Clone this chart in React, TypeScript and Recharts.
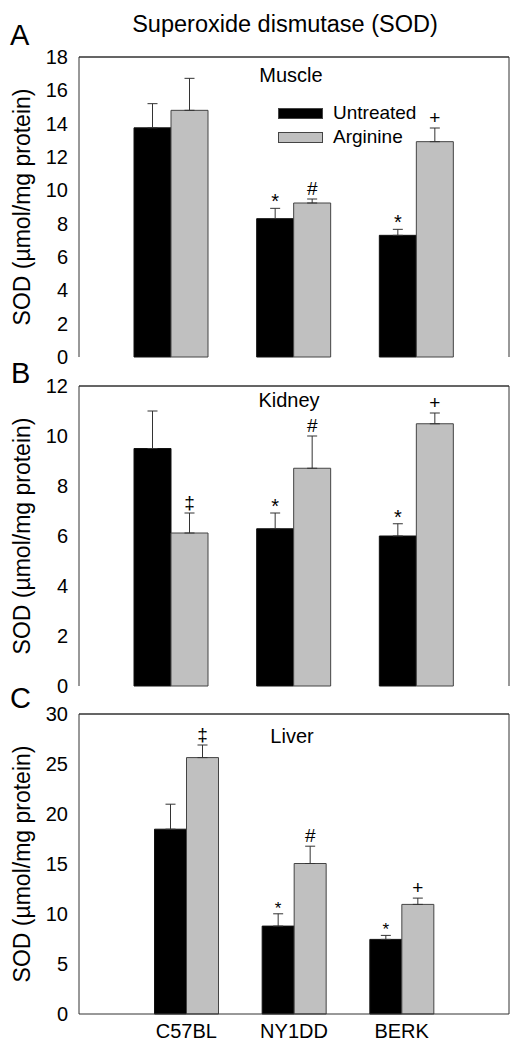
import { BarChart, Bar, XAxis, YAxis, ErrorBar, LabelList, ReferenceLine } from 'recharts';

const FONT = '"Liberation Sans", Arial, sans-serif';

const strains = ['C57BL', 'NY1DD', 'BERK'];

// Muscle
const muscleUntreated = [13.75, 8.3, 7.3];
const muscleUntreatedErr = [1.45, 0.62, 0.36];
const muscleArginine = [14.8, 9.24, 12.92];
const muscleArginineErr = [1.92, 0.24, 0.82];
const muscleUntreatedMark = ['', '*', '*'];
const muscleArginineMark = ['', '#', '+'];

// Kidney
const kidneyUntreated = [9.5, 6.29, 6.0];
const kidneyUntreatedErr = [1.5, 0.63, 0.49];
const kidneyArginine = [6.12, 8.71, 10.49];
const kidneyArginineErr = [0.8, 1.29, 0.43];
const kidneyUntreatedMark = ['', '*', '*'];
const kidneyArginineMark = ['‡', '#', '+'];

// Liver
const liverUntreated = [18.48, 8.79, 7.46];
const liverUntreatedErr = [2.5, 1.23, 0.4];
const liverArginine = [25.64, 15.05, 10.96];
const liverArginineErr = [1.26, 1.73, 0.63];
const liverUntreatedMark = ['', '*', '*'];
const liverArginineMark = ['‡', '#', '+'];

const muscleTicks = [0, 2, 4, 6, 8, 10, 12, 14, 16, 18];
const kidneyTicks = [0, 2, 4, 6, 8, 10, 12];
const liverTicks = [0, 5, 10, 15, 20, 25, 30];

function buildRows(u: number[], ue: number[], a: number[], ae: number[], um: string[], am: string[]) {
  return strains.map((s, i) => ({
    strain: s,
    untreated: u[i],
    untreatedErr: [0, ue[i]],
    untreatedMark: um[i],
    arginine: a[i],
    arginineErr: [0, ae[i]],
    arginineMark: am[i],
  }));
}

const muscleData = buildRows(muscleUntreated, muscleUntreatedErr, muscleArginine, muscleArginineErr, muscleUntreatedMark, muscleArginineMark);
const kidneyData = buildRows(kidneyUntreated, kidneyUntreatedErr, kidneyArginine, kidneyArginineErr, kidneyUntreatedMark, kidneyArginineMark);
const liverData = buildRows(liverUntreated, liverUntreatedErr, liverArginine, liverArginineErr, liverUntreatedMark, liverArginineMark);

const FRAME = '#333';

function markContent(data: any[], key: 'untreated' | 'arginine', starSize: number) {
  return (props: any) => {
    const { x, y, width, height, value, index } = props;
    if (!value) return null;
    const row = data[index];
    const v = row[key];
    const err = row[key + 'Err'][1];
    const pxPer = Number(height) / v;
    const top = Number(y) - err * pxPer;
    const isStar = value === '*';
    return (
      <text
        x={Number(x) + Number(width) / 2}
        y={top - (isStar ? 0 : 4)}
        textAnchor="middle"
        fontFamily={FONT}
        fontSize={isStar ? starSize : 19}
        fill="#000"
      >
        {value}
      </text>
    );
  };
}

function LegendBox() {
  const row = (color: string, label: string) => (
    <div style={{ display: 'flex', alignItems: 'center', height: 24 }}>
      <div style={{ width: 43, height: 9, background: color, border: '1px solid #444', marginRight: 10 }} />
      <span style={{ fontFamily: FONT, fontSize: 19, color: '#000' }}>{label}</span>
    </div>
  );
  return (
    <div style={{ position: 'absolute', left: 278, top: 101 }}>
      {row('#000', 'Untreated')}
      {row('#c0c0c0', 'Arginine')}
    </div>
  );
}

interface PanelProps {
  data: any[];
  ticks: number[];
  height: number;
  top: number;
  bottom: number;
  barSize: number;
  pad: number;
  showX: boolean;
  starSize: number;
}

function Panel({ data, ticks, height, top, bottom, barSize, pad, showX, starSize }: PanelProps) {
  const max = ticks[ticks.length - 1];
  return (
    <BarChart
      width={520}
      height={height}
      data={data}
      margin={{ top: top - 1, right: 10, bottom, left: 0 }}
      barGap={0}
    >
      <XAxis
        dataKey="strain"
        padding={{ left: pad, right: pad }}
        height={showX ? 36 : 0}
        tick={showX ? { fontFamily: FONT, fontSize: 20, fill: '#000' } : false}
        tickLine={false}
        tickMargin={4}
        axisLine={{ stroke: FRAME }}
      />
      <XAxis xAxisId="top" dataKey="strain" orientation="top" height={1} tick={false} tickLine={false} axisLine={{ stroke: FRAME }} />
      <YAxis
        domain={[0, max]}
        ticks={ticks}
        interval={0}
        width={79}
        tickLine={false}
        tickMargin={5}
        tick={{ fontFamily: FONT, fontSize: 20, fill: '#000' }}
        axisLine={{ stroke: FRAME }}
        label={{
          value: 'SOD (µmol/mg protein)',
          content: (p: any) => {
            const vb = p.viewBox || {};
            const cy = vb.y + vb.height / 2;
            return (
              <text
                x={30}
                y={cy}
                transform={`rotate(-90, 30, ${cy})`}
                textAnchor="middle"
                fontFamily={FONT}
                fontSize={23}
                fill="#000"
              >
                SOD (µmol/mg protein)
              </text>
            );
          },
        }}
      />
      <YAxis yAxisId="right" orientation="right" width={1} domain={[0, max]} tick={false} tickLine={false} axisLine={{ stroke: FRAME }} />
      <ReferenceLine y={max} stroke={FRAME} />
      <Bar dataKey="untreated" name="Untreated" fill="#000" stroke="#111" barSize={barSize} isAnimationActive={false}>
        <ErrorBar dataKey="untreatedErr" width={5} stroke="#333" strokeWidth={1} direction="y" />
        <LabelList dataKey="untreatedMark" content={markContent(data, 'untreated', starSize)} />
      </Bar>
      <Bar dataKey="arginine" name="Arginine" fill="#c0c0c0" stroke="#444" barSize={barSize} isAnimationActive={false}>
        <ErrorBar dataKey="arginineErr" width={5} stroke="#333" strokeWidth={1} direction="y" />
        <LabelList dataKey="arginineMark" content={markContent(data, 'arginine', starSize)} />
      </Bar>
    </BarChart>
  );
}

export default function App() {
  return (
    <div style={{ position: 'absolute', left: 0, top: 0, width: 520, height: 1050, background: '#fff' }}>
      <div style={{ position: 'absolute', left: 0, top: 0 }}>
        <Panel data={muscleData} ticks={muscleTicks} height={370} top={57} bottom={13} barSize={37} pad={31} showX={false} starSize={20} />
      </div>
      <div style={{ position: 'absolute', left: 0, top: 370 }}>
        <Panel data={kidneyData} ticks={kidneyTicks} height={330} top={16} bottom={14} barSize={37} pad={31} showX={false} starSize={20} />
      </div>
      <div style={{ position: 'absolute', left: 0, top: 700 }}>
        <Panel data={liverData} ticks={liverTicks} height={350} top={14} bottom={0} barSize={32} pad={53.5} showX starSize={17} />
      </div>
      <LegendBox />
      <svg width={520} height={1050} style={{ position: 'absolute', left: 0, top: 0, pointerEvents: 'none' }}>
        <g fontFamily={FONT} fill="#000">
          <text x={285} y={32} textAnchor="middle" fontSize={23.5}>Superoxide dismutase (SOD)</text>
          <text x={10} y={45} fontSize={29}>A</text>
          <text x={11} y={383} fontSize={29}>B</text>
          <text x={10} y={708} fontSize={29}>C</text>
          <text x={291} y={82} textAnchor="middle" fontSize={20}>Muscle</text>
          <text x={289} y={407} textAnchor="middle" fontSize={20}>Kidney</text>
          <text x={292} y={743} textAnchor="middle" fontSize={20}>Liver</text>
        </g>
      </svg>
    </div>
  );
}
